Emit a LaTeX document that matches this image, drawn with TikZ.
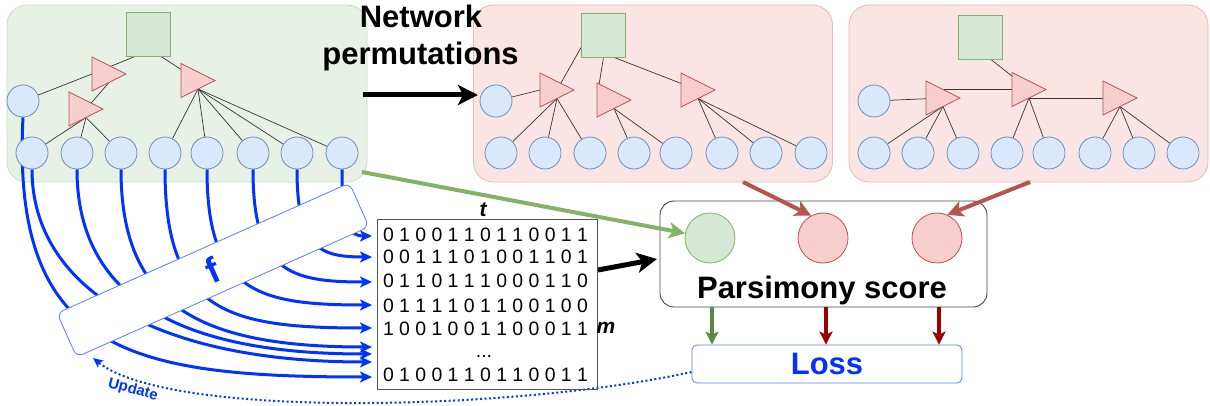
\documentclass[tikz,border=0pt]{standalone}
\usepackage{fontspec}
\setmainfont{Liberation Sans}
\usetikzlibrary{shapes.geometric,arrows.meta,calc}
\definecolor{leaff}{HTML}{DAE8FC}
\definecolor{leafd}{HTML}{6C8EBF}
\definecolor{sqf}{HTML}{D5E8D4}
\definecolor{sqd}{HTML}{82B366}
\definecolor{trif}{HTML}{F8CECC}
\definecolor{trid}{HTML}{B85450}
\definecolor{gpanf}{HTML}{E8F1E5}
\definecolor{gpand}{HTML}{C8DEC0}
\definecolor{rpanf}{HTML}{FBE5E4}
\definecolor{rpand}{HTML}{ECB8B6}
\definecolor{bluec}{HTML}{0033FF}
\definecolor{fboxd}{HTML}{5C7CFA}
\definecolor{matc}{HTML}{555555}
\definecolor{pboxc}{HTML}{444444}
\definecolor{edgec}{HTML}{333333}
\definecolor{garr}{HTML}{82B366}
\definecolor{rarr}{HTML}{B85450}
\definecolor{dgarr}{HTML}{5C8A45}
\definecolor{drarr}{HTML}{990000}
\pgfdeclarelayer{bg}
\pgfdeclarelayer{edges}
\pgfdeclarelayer{front}
\pgfsetlayers{bg,edges,main,front}
\begin{document}
\begin{tikzpicture}[x=1pt,y=-1pt,
  leaf/.style={circle,draw=leafd,fill=leaff,line width=0.8pt,minimum size=32pt,inner sep=0pt},
  rootsq/.style={rectangle,draw=sqd,fill=sqf,line width=0.8pt,minimum size=44pt,inner sep=0pt},
  tri/.style={isosceles triangle,isosceles triangle stretches,shape border rotate=0,draw=trid,fill=trif,line width=0.8pt,minimum width=34pt,minimum height=34pt,inner sep=0pt,outer sep=0pt,anchor=apex},
  tedge/.style={draw=edgec,line width=0.7pt},
  gpanel/.style={rectangle,rounded corners=20pt,draw=gpand,fill=gpanf,line width=0.8pt,minimum width=360pt,minimum height=177pt},
  rpanel/.style={rectangle,rounded corners=20pt,draw=rpand,fill=rpanf,line width=0.8pt,minimum width=359pt,minimum height=177pt},
  bluearr/.style={draw=bluec,line width=3pt,-{Stealth[length=12pt,width=11pt,inset=3pt]}},
  blackarr/.style={draw=black,line width=5pt,-{Stealth[length=20pt,width=20pt,inset=5pt]}},
  colarr/.style={line width=4pt,-{Stealth[length=16pt,width=16pt,inset=4pt]}},
  downarr/.style={line width=3.5pt,-{Stealth[length=13pt,width=13pt,inset=3pt]}},
  rowtxt/.style={font=\fontsize{19.4}{20}\selectfont,inner sep=0pt},
  bigbold/.style={font=\fontsize{31}{37}\selectfont\bfseries,inner sep=0pt},
  scorec/.style={circle,line width=0.8pt,minimum size=50pt,inner sep=0pt}
]
\useasboundingbox (0,0) rectangle (1210,406);
\begin{pgfonlayer}{bg}
\fill[white] (0,0) rectangle (1210,406);
\node[gpanel] (panel1) at (187,93.5) {};
\node[rpanel] (panel2) at (653,93.5) {};
\node[rpanel] (panel3) at (1028.5,93.5) {};
\end{pgfonlayer}

% ---------- panel 1 ----------
\node[rootsq] (sq1) at (148,34) {};
\node[tri] (ta1) at (126,74) {};
\node[tri] (ta2) at (103,109) {};
\node[tri] (ta3) at (215,80.5) {};
\node[leaf] (a0) at (23,101) {};
\foreach \x [count=\i] in {32,77,121,165,207,253,297,342}
  \node[leaf] (a\i) at (\x,153) {};

% ---------- panel 2 ----------
\node[rootsq] (sq2) at (603.5,35) {};
\node[tri] (tb1) at (574,90) {};
\node[tri] (tb2) at (631,100) {};
\node[tri] (tb3) at (715,90) {};
\node[leaf] (b0) at (496,101) {};
\foreach \x [count=\i] in {501,545,590,634,676,722,766,811}
  \node[leaf] (b\i) at (\x,153) {};

% ---------- panel 3 ----------
\node[rootsq] (sq3) at (980,37.5) {};
\node[tri] (tc1) at (960,98) {};
\node[tri] (tc2) at (1046,89.5) {};
\node[tri] (tc3) at (1137,98) {};
\node[leaf] (c0) at (874,101) {};
\foreach \x [count=\i] in {874,918,963,1007,1049,1095,1139,1183}
  \node[leaf] (c\i) at (\x,153) {};

% ---------- texts ----------
\node[bigbold,anchor=base] (nw1) at (421,28) {Network};
\node[bigbold,anchor=base] (nw2) at (420.5,65) {permutations};

% ---------- matrix ----------
\node[draw=matc,line width=0.9pt,minimum width=220pt,minimum height=170pt,inner sep=0pt] (mat) at (487,304) {};
\node[rowtxt] (r1) at (485.5,234.5) {0 1 0 0 1 1 0 1 1 0 0 1 1};
\node[rowtxt] (r2) at (485.5,257) {0 0 1 1 1 0 1 0 0 1 1 0 1};
\node[rowtxt] (r3) at (485.5,281) {0 1 1 0 1 1 1 0 0 0 1 1 0};
\node[rowtxt] (r4) at (485.5,305.5) {0 1 1 1 1 0 1 1 0 0 1 0 0};
\node[rowtxt] (r5) at (485.5,329) {1 0 0 1 0 0 1 1 0 0 0 1 1};
\node[rowtxt] (rd) at (484,356) {...};
\node[rowtxt] (r7) at (485.5,374.5) {0 1 0 0 1 1 0 1 1 0 0 1 1};
\node[rowtxt,font=\fontsize{21}{21}\selectfont\bfseries\itshape] (tl) at (483,210) {t};
\node[rowtxt,font=\fontsize{21}{21}\selectfont\bfseries\itshape] (ml) at (606,328) {m};

% ---------- f box ----------
\node[draw=fboxd,fill=white,line width=0.8pt,rounded corners=7pt,minimum width=320pt,minimum height=48pt,inner sep=0pt,rotate=24,text=bluec,font=\fontsize{36}{36}\selectfont\bfseries] (fb) at (213,270) {f};

% ---------- parsimony box ----------
\node[draw=pboxc,fill=white,line width=0.9pt,rounded corners=14pt,minimum width=327pt,minimum height=106pt,inner sep=0pt] (pbox) at (823.5,254) {};
\node[scorec,draw=sqd,fill=sqf] (pg) at (710,238) {};
\node[scorec,draw=trid,fill=trif] (pr1) at (823,238) {};
\node[scorec,draw=trid,fill=trif] (pr2) at (937,238) {};
\node[bigbold,anchor=base] (pst) at (822,298) {Parsimony score};

% ---------- loss ----------
\node[draw=fboxd,fill=white,line width=0.8pt,rounded corners=5pt,minimum width=270pt,minimum height=38pt,inner sep=0pt,text=bluec,font=\fontsize{31}{31}\selectfont\bfseries] (loss) at (827,364) {Loss};

\node[text=bluec,font=\fontsize{15}{15}\selectfont\bfseries,rotate=-15,inner sep=0pt] (upd) at (133,390) {Update};

% ---------- coordinates ----------
\coordinate (ns) at (363,95);
\coordinate (ne) at (478,95);
\coordinate (gs) at (362,172);
\coordinate (rs1) at (743,182);
\coordinate (rs2) at (1030,182);
\coordinate (ms) at (598,270);
\coordinate (me) at (657,259);
\coordinate (uend) at (93,358);
\foreach \y [count=\i] in {236,257,282,305,328,347,354,362,377}
  \coordinate (e\i) at (372,\y);

\begin{pgfonlayer}{edges}
% tree edges panel 1
\draw[tedge] (sq1.240) -- ($(ta1.apex)+(-34,0)$);
\draw[tedge] (a0) -- ($(ta1.apex)+(-34,0)$);
\draw[tedge] ($(ta1.apex)+(-17,8.5)$) -- ($(ta2.apex)+(-17,0)$);
\foreach \i in {1,2,3} \draw[tedge] ($(ta2.apex)+(-17,8.5)$) -- (a\i);
\draw[tedge] (sq1.300) -- ($(ta3.apex)+(-17,0)$);
\foreach \i in {4,...,8} \draw[tedge] ($(ta3.apex)+(-17,8.5)$) -- (a\i);
% tree edges panel 2
\draw[tedge] (sq2.209) -- ($(tb1.apex)+(-17,0)$);
\draw[tedge] (b0) -- ($(tb1.apex)+(-34,0)$);
\draw[tedge] (sq2.south) -- ($(tb2.apex)+(-32,-15)$);
\draw[tedge] (sq2.295) -- ($(tb3.apex)+(-17,0)$);
\foreach \i in {1,2,3} \draw[tedge] ($(tb1.apex)+(-17,8.5)$) -- (b\i);
\foreach \i in {4,5} \draw[tedge] ($(tb2.apex)+(-17,8.5)$) -- (b\i);
\foreach \i in {6,7,8} \draw[tedge] ($(tb3.apex)+(-17,8.5)$) -- (b\i);
% tree edges panel 3
\draw[tedge] (c0) -- ($(tc1.apex)+(-17,0)$);
\draw[tedge] (sq3.297) -- ($(tc2.apex)+(-17,0)$);
\draw[tedge] ($(tc1.apex)+(-17,-8.5)$) -- ($(tc2.apex)+(-17,0)$);
\draw[tedge] ($(tc2.apex)+(-17,8.5)$) -- ($(tc3.apex)+(-17,0)$);
\foreach \i in {1,2,3} \draw[tedge] ($(tc1.apex)+(-17,8.5)$) -- (c\i);
\foreach \i in {4,5} \draw[tedge] ($(tc2.apex)+(-17,8.5)$) -- (c\i);
\foreach \i in {6,7,8} \draw[tedge] ($(tc3.apex)+(-17,8.5)$) -- (c\i);

% blue curves
\draw[bluearr] (a8.south) .. controls +(0,60) and +(-21,0) .. (e1);
\draw[bluearr] (a7.south) .. controls +(0,79) and +(-52.5,0) .. (e2);
\draw[bluearr] (a6.south) .. controls +(0,102) and +(-83,0) .. (e3);
\draw[bluearr] (a5.south) .. controls +(0,122) and +(-115.5,0) .. (e4);
\draw[bluearr] (a4.south) .. controls +(0,143) and +(-145,0) .. (e5);
\draw[bluearr] (a3.south) .. controls +(0,134) and +(-176,0) .. (e6);
\draw[bluearr] (a2.south) .. controls +(0,120) and +(-206,0) .. (e7);
\draw[bluearr] (a1.south) .. controls +(0,116) and +(-221,0) .. (e8);
\draw[bluearr] (a0.south) .. controls +(-12,234) and +(-244,0) .. (e9);

% other connectors
\draw[blackarr] (ns) -- (ne);
\draw[blackarr] (ms) -- (me);
\draw[draw=bluec,line width=2pt,dash pattern=on 2pt off 2.5pt,-{Stealth[length=10pt,width=9pt,inset=2.5pt]}]
  ($(loss.west)+(0,8)$) .. controls (520,410) and (170,420) .. (uend);
\end{pgfonlayer}

\begin{pgfonlayer}{front}
\draw[colarr,draw=garr] (gs) -- (pg);
\draw[colarr,draw=rarr] (rs1) -- (pr1.118);
\draw[colarr,draw=rarr] (rs2) -- (pr2.66);
\draw[downarr,draw=dgarr] ([xshift=2pt]pg |- pbox.south) -- ([xshift=2pt]pg |- loss.north);
\draw[downarr,draw=drarr] ([xshift=3pt]pr1 |- pbox.south) -- ([xshift=3pt]pr1 |- loss.north);
\draw[downarr,draw=drarr] ([xshift=2pt]pr2 |- pbox.south) -- ([xshift=2pt]pr2 |- loss.north);
\end{pgfonlayer}
\end{tikzpicture}
\end{document}
